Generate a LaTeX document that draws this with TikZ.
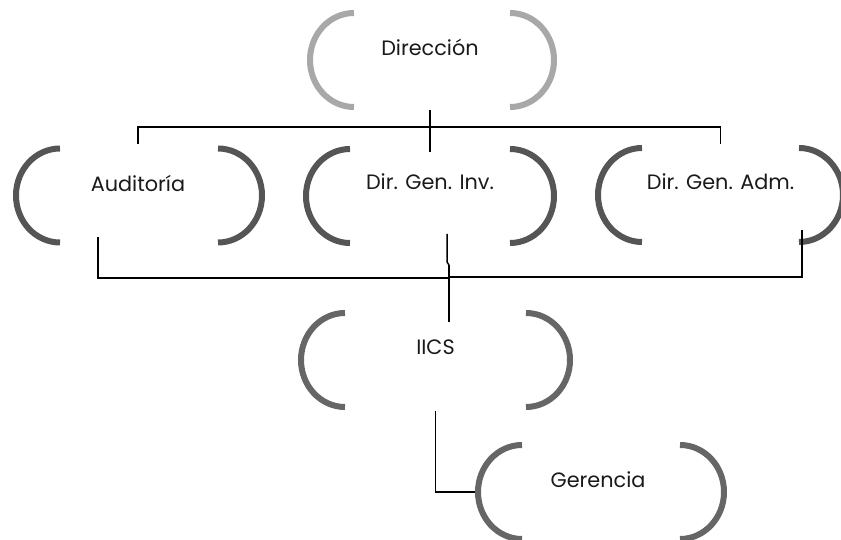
\documentclass[tikz,border=0pt]{standalone}
\usepackage{fontspec}
\setmainfont{Poppins}
\definecolor{brlight}{HTML}{A8A8A8}
\definecolor{brdark}{HTML}{555555}
\definecolor{brmid}{HTML}{666666}
\definecolor{txt}{HTML}{1A1A1A}
\tikzset{
  shapebox/.style={minimum width=#1, minimum height=94pt, inner sep=0pt, outer sep=0pt},
  brline/.style={line width=6pt, line cap=butt},
  lbl/.style={inner sep=0pt, text=txt, font=\fontsize{20.8}{24}\selectfont},
  conn/.style={line width=1.5pt, black},
  connthick/.style={line width=2.8pt, black}
}
\newcommand\brkpair[2]{%
  \draw[brline,#2] ([xshift=44pt]#1.north west) arc[start angle=90,end angle=270,x radius=44pt,y radius=47pt];
  \draw[brline,#2] ([xshift=-44pt]#1.north east) arc[start angle=90,end angle=-90,x radius=44pt,y radius=47pt];}
\begin{document}
\begin{tikzpicture}[x=1pt,y=1pt]
\useasboundingbox (0,0) rectangle (841,540);
% shapes
\node[shapebox=244pt] (dir) at (432,480) {};
\node[shapebox=246pt] (aud) at (139,344.5) {};
\node[shapebox=248pt] (dgi) at (430,344) {};
\node[shapebox=245pt] (dga) at (720.5,345) {};
\node[shapebox=269pt] (iics) at (435.5,180) {};
\node[shapebox=246pt] (ger) at (601,48) {};
\brkpair{dir}{brlight}
\brkpair{aud}{brdark}
\brkpair{dgi}{brdark}
\brkpair{dga}{brdark}
\brkpair{iics}{brmid}
\brkpair{ger}{brmid}
% labels
\node[lbl] (dirT) at ([xshift=-2pt,yshift=13pt]dir.center) {Dirección};
\node[lbl] (audT) at ([xshift=-1pt,yshift=12.5pt]aud.center) {Auditoría};
\node[lbl] (dgiT) at ([yshift=14pt]dgi.center) {Dir. Gen. Inv.};
\node[lbl] (dgaT) at ([yshift=13pt]dga.center) {Dir. Gen. Adm.};
\node[lbl] (iicsT) at ([yshift=13pt]iics.center) {IICS};
\node[lbl] (gerT) at ([xshift=-3pt,yshift=12pt]ger.center) {Gerencia};
% top bus
\coordinate (busA) at (0,413);
\draw[connthick] ([xshift=-2pt,yshift=-3pt]dir.south) -- ([xshift=-2pt]dir.south |- busA);
\draw[conn] ([xshift=-2pt]dir.south |- busA) -- ([yshift=-3pt]dgi.north);
\draw[conn] ([xshift=-1pt,yshift=4pt]aud.north) -- ([xshift=-1pt]aud.north |- busA) -- (dga.north |- busA) -- ([yshift=4pt]dga.north);
% bottom bus
\coordinate (busB) at (0,262);
\coordinate (busBr) at (0,263);
\coordinate (jx) at ([xshift=19pt]dgi.south);
\coordinate (itop) at ([xshift=13.5pt,yshift=-9pt]iics.north);
\draw[conn] ([xshift=-41pt,yshift=5pt]aud.south) -- ([xshift=-41pt]aud.south |- busB) -- (jx |- busB);
\draw[conn] (jx |- busBr) -- ([xshift=81.5pt]dga.south |- busBr) -- ([xshift=81.5pt,yshift=12pt]dga.south);
\draw[conn] ([xshift=17pt,yshift=9pt]dgi.south) -- ([xshift=17pt,yshift=-19pt]dgi.south) -- ([xshift=19pt,yshift=-22pt]dgi.south);
\draw[connthick] ([xshift=19pt,yshift=-22pt]dgi.south) -- (jx |- busB);
\draw[conn] (jx |- busB) -- (itop);
% IICS to Gerencia
\draw[conn] ([yshift=-4pt]iics.south) |- ([xshift=-3pt]ger.west);
\end{tikzpicture}
\end{document}
